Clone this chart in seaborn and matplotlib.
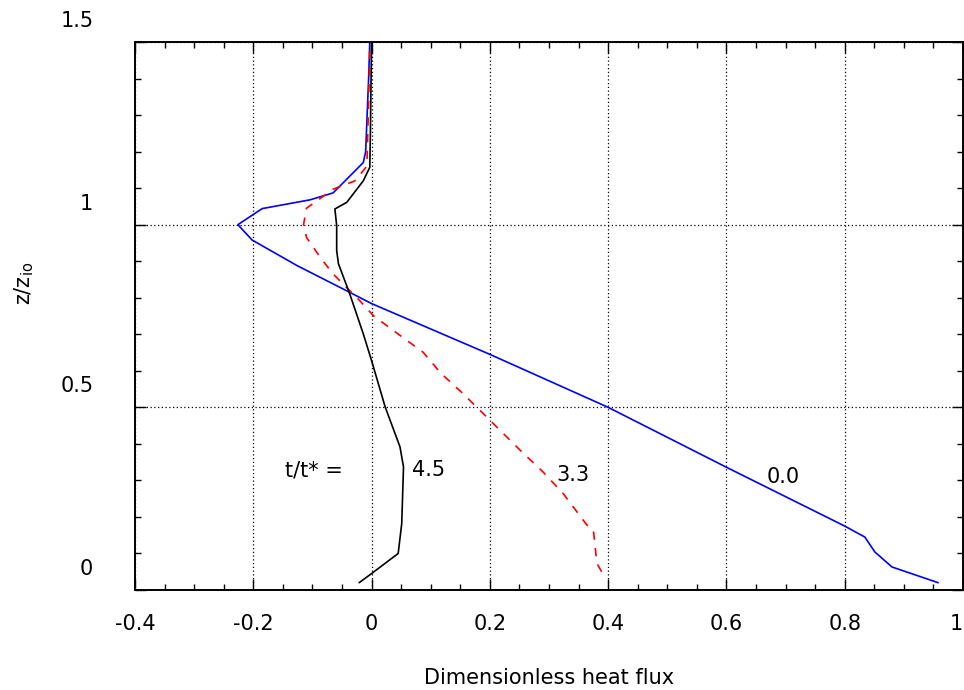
import matplotlib
matplotlib.use("Agg")
import matplotlib.pyplot as plt
import matplotlib.transforms as mtransforms
from matplotlib.ticker import MultipleLocator
import pandas as pd
import seaborn as sns

# heat flux profiles, (flux, z/zi)
flux_00 = [0.958, 0.88, 0.851, 0.834, 0.80, 0.60, 0.40, 0.20, 0.0, -0.036,
           -0.126, -0.202, -0.226, -0.185, -0.104, -0.065, -0.014, -0.010,
           -0.008, -0.005, -0.003]
z_00 = [0.02, 0.063, 0.104, 0.145, 0.175, 0.336, 0.50, 0.645, 0.784, 0.814,
        0.888, 0.958, 1.0, 1.044, 1.068, 1.087, 1.17, 1.20, 1.28, 1.40, 1.50]

flux_33 = [0.389, 0.381, 0.375, 0.364, 0.324, 0.29, 0.251, 0.195, 0.155,
           0.118, 0.087, 0.048, 0.003, -0.02, -0.065, -0.087, -0.110, -0.115,
           -0.110, -0.065, -0.028, -0.008, -0.006, -0.004, -0.003]
z_33 = [0.05, 0.073, 0.164, 0.178, 0.264, 0.323, 0.383, 0.473, 0.537, 0.592,
        0.651, 0.697, 0.751, 0.792, 0.865, 0.911, 0.965, 1.0, 1.045, 1.097,
        1.12, 1.16, 1.275, 1.40, 1.50]

flux_45 = [-0.021, 0.0, 0.045, 0.051, 0.054, 0.048, 0.023, 0.0, -0.014,
           -0.037, -0.056, -0.059, -0.059, -0.062, -0.042, -0.014, -0.003,
           -0.002, -0.001, 0.0]
z_45 = [0.02, 0.045, 0.10, 0.182, 0.337, 0.392, 0.501, 0.628, 0.701, 0.811,
        0.893, 0.929, 0.997, 1.043, 1.061, 1.12, 1.157, 1.25, 1.38, 1.50]

series = ["0.0", "3.3", "4.5"]
colors = {"0.0": "#0000ff", "3.3": "#ff0000", "4.5": "#000000"}
dashes = {"0.0": "", "3.3": (5, 5), "4.5": ""}

# label positions (flux, z)
label_x = [0.668, 0.313, 0.068]
label_z = [0.31, 0.314, 0.328]

xticks = [-0.4, -0.2, 0, 0.2, 0.4, 0.6, 0.8, 1.0]
xticklabels = ["-0.4", "-0.2", "0", "0.2", "0.4", "0.6", "0.8", "1"]
yticks = [0, 0.5, 1.0, 1.5]
yticklabels = ["0", "0.5", "1", "1.5"]

df = pd.concat([
    pd.DataFrame({"flux": flux_00, "z": z_00, "t": "0.0"}),
    pd.DataFrame({"flux": flux_33, "z": z_33, "t": "3.3"}),
    pd.DataFrame({"flux": flux_45, "z": z_45, "t": "4.5"}),
])

sns.set_style("ticks")
plt.rcParams["font.family"] = ["DejaVu Sans"]
plt.rcParams["text.color"] = "black"
plt.rcParams["xtick.labelcolor"] = "black"
plt.rcParams["ytick.labelcolor"] = "black"

fig = plt.figure(figsize=(9.64, 6.9), dpi=100)
ax = fig.add_axes([135 / 964, 100 / 690, 828 / 964, 548 / 690])

sns.lineplot(data=df, x="flux", y="z", hue="t", style="t", palette=colors,
             dashes=dashes, orient="y", estimator=None, legend=False,
             linewidth=1.2, ax=ax)

ax.set_xlim(-0.4, 1.0)
ax.set_ylim(0, 1.5)
ax.set_xticks(xticks)
ax.set_xticklabels(xticklabels, color="black")
ax.set_yticks(yticks)
ax.set_yticklabels(yticklabels, color="black")
ax.xaxis.set_minor_locator(MultipleLocator(0.05))
ax.yaxis.set_minor_locator(MultipleLocator(0.1))

ax.tick_params(which="both", direction="in", top=True, right=True,
               color="black", width=1.0)
ax.tick_params(which="major", length=8, labelsize=15)
ax.tick_params(which="minor", length=4.5)
ax.tick_params(axis="x", which="major", pad=17)
ax.tick_params(axis="y", which="major", pad=30)

# y tick labels sit above their ticks in the original
shift = mtransforms.ScaledTranslation(0, 0.23, fig.dpi_scale_trans)
for lab in ax.get_yticklabels():
    lab.set_transform(lab.get_transform() + shift)
# last x label sits at the right edge of the figure
ax.get_xticklabels()[-1].set_horizontalalignment("right")

for s in ax.spines.values():
    s.set_linewidth(1.4)
    s.set_color("black")

ax.grid(True, which="major", color="black", linestyle=(0, (1, 2)),
        linewidth=0.9)
ax.set_xlabel("")
ax.set_ylabel("")

ax.text(-0.146, 0.328, "t/t* =", fontsize=15, va="center", ha="left")
for name, lx, lz in zip(series, label_x, label_z):
    ax.text(lx, lz, name, fontsize=15, va="center", ha="left")

fig.text(549 / 964, 12 / 690, "Dimensionless heat flux", fontsize=15,
         ha="center", va="center")
fig.text(24 / 964, 1 - 283 / 690, r"z/z$_{\mathrm{io}}$", fontsize=15,
         rotation=90, ha="center", va="center")

fig.savefig("out.png", dpi=100)
